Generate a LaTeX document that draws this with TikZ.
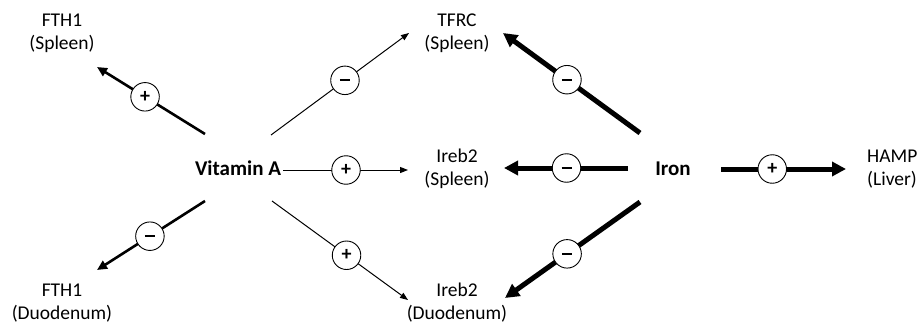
\documentclass[tikz,border=0pt]{standalone}
\usepackage{fontspec}
\setmainfont{Carlito}
\usetikzlibrary{arrows.meta}
\newcommand{\minussign}{\rule{10pt}{1.8pt}}
\begin{document}
\begin{tikzpicture}[x=1pt,y=-1pt,
  lbl/.style={align=center, font=\fontsize{19.5}{23}\selectfont, inner sep=0pt},
  hub/.style={font=\fontsize{21}{25}\selectfont\bfseries, inner sep=0pt},
  sign/.style={circle, draw, line width=0.9pt, fill=white, minimum size=28.5pt, inner sep=0pt, font=\fontsize{20}{20}\selectfont\bfseries},
  lwa/.style={line width=1pt, -{Triangle[length=8pt,width=6pt]}},
  lwb/.style={line width=2.6pt, -{Triangle[length=10pt,width=9pt]}},
  lwc/.style={line width=5pt, -{Triangle[length=14pt,width=14pt]}}]
\useasboundingbox (0,0) rectangle (920,326);
% labels
\node[lbl] (fth1s) at (62,33) {FTH1\\(Spleen)};
\node[lbl] (fth1d) at (62,303) {FTH1\\(Duodenum)};
\node[lbl] (tfrc) at (457,33) {TFRC\\(Spleen)};
\node[lbl] (irebs) at (457,169) {Ireb2\\(Spleen)};
\node[lbl] (irebd) at (457,303) {Ireb2\\(Duodenum)};
\node[lbl, align=left, anchor=west] (hamp) at (867,169) {HAMP\\(Liver)};
\node[hub] (vita) at (238,168) {Vitamin A};
\node[hub] (iron) at (673,169) {Iron};
% connector end points
\coordinate (v1) at (205,134); \coordinate (e1) at (97,67);
\coordinate (v2) at (205,201); \coordinate (e2) at (97,270);
\coordinate (v3) at (271,135); \coordinate (e3) at (409,33);
\coordinate (v4) at (283,170); \coordinate (e4) at (408,170);
\coordinate (v5) at (272,201); \coordinate (e5) at (408,300);
\coordinate (i1) at (640,133); \coordinate (f1) at (503,33);
\coordinate (i2) at (628,168); \coordinate (f2) at (504,168);
\coordinate (i3) at (640,202); \coordinate (f3) at (505,298);
\coordinate (i4) at (721,169); \coordinate (f4) at (846,169);
% connectors
\draw[lwb] (v1) -- node[sign, pos=0.555] (s1) {+} (e1);
\draw[lwb] (v2) -- node[sign, pos=0.51] (s2) {\minussign} (e2);
\draw[lwa] (v3) -- node[sign, pos=0.536] (s3) {\minussign} (e3);
\draw[lwa] (v4) -- node[sign, pos=0.504] (s4) {+} (e4);
\draw[lwa] (v5) -- node[sign, pos=0.548] (s5) {+} (e5);
\draw[lwc] (i1) -- node[sign, pos=0.533] (s6) {\minussign} (f1);
\draw[lwc] (i2) -- node[sign, pos=0.496] (s7) {\minussign} (f2);
\draw[lwc] (i3) -- node[sign, pos=0.54] (s8) {\minussign} (f3);
\draw[lwc] (i4) -- node[sign, pos=0.41] (s9) {+} (f4);
\end{tikzpicture}
\end{document}
